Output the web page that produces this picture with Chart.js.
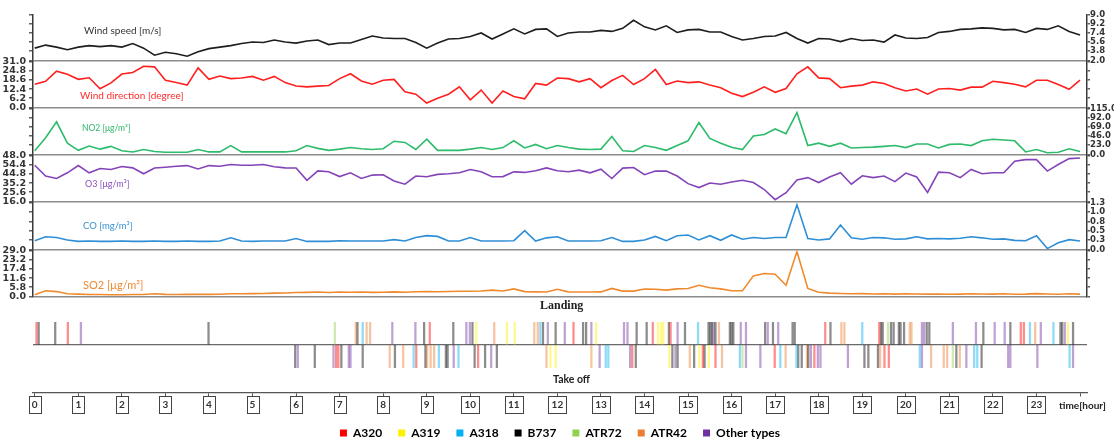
<!DOCTYPE html>
<html>
<head>
<meta charset="utf-8">
<script src="https://cdn.jsdelivr.net/npm/chart.js@4.4.0/dist/chart.umd.min.js"></script>
<style>
  html, body { margin: 0; padding: 0; background: #fff; }
  #stage { position: relative; width: 1114px; height: 440px; overflow: hidden; font-family: Lato, "Liberation Sans", sans-serif; }
  #stage canvas { position: absolute; left: 0; }
  .lbl { position: absolute; white-space: nowrap; line-height: 1; transform: translateY(-50%); }
</style>
</head>
<body>
<div id="stage"></div>
<script>
// readings every 15 minutes, hour 0 .. 24
const STEP_H = 0.25;

const windSpeed = [4.4,5.0,4.6,4.1,4.6,4.9,4.7,4.9,4.6,5.3,4.4,3.0,3.6,3.3,2.8,3.7,4.3,4.6,4.9,5.3,5.6,5.5,6.0,5.6,5.4,
  5.8,6.0,5.1,5.4,5.4,6.1,6.8,6.4,6.3,6.3,5.5,4.4,5.4,6.2,6.3,6.7,7.4,6.2,7.2,8.2,7.2,8.1,8.2,6.7,
  7.4,7.6,7.6,7.9,7.7,8.3,9.9,8.6,8.0,8.8,7.5,8.0,8.1,7.6,7.6,6.7,6.0,6.3,6.7,6.8,7.5,6.3,5.4,6.3,
  6.2,5.7,6.3,5.9,6.0,5.6,7.0,6.4,6.3,6.5,7.5,7.7,8.1,8.2,8.4,8.3,8.0,8.1,7.5,8.3,8.1,8.8,7.7,7.0];

const windDir = [15.7,17.7,24.6,22.4,19.0,20.1,12.6,16.6,22.6,23.7,27.9,27.5,18.4,16.8,15.1,26.8,19.0,21.3,19.5,19.9,21.0,18.4,21.0,16.8,14.5,
  13.9,14.4,14.8,19.5,22.8,17.9,15.7,18.4,19.0,10.6,8.9,2.9,6.2,8.9,13.9,5.1,11.7,2.9,11.1,7.3,5.8,16.2,15.1,19.9,
  19.5,17.3,19.5,13.3,18.2,21.7,15.5,19.5,25.7,15.5,17.9,16.8,17.3,15.1,13.3,9.5,7.3,10.2,13.9,10.2,12.8,22.8,27.5,20.0,
  19.5,13.3,14.4,15.1,17.3,16.2,13.3,11.1,12.4,8.9,12.4,12.8,11.7,13.7,13.7,17.7,16.8,15.7,13.9,18.4,18.4,15.5,12.2,18.4];

const no2 = [9,42,82,28,10,21,13,20,9,6,12,7,5,5,5,12,6,6,22,6,6,6,6,6,9,
  22,15,10,13,17,14,12,14,33,30,12,38,10,10,10,13,17,12,17,34,16,25,14,22,
  17,13,12,13,45,9,7,22,17,10,22,34,80,40,28,18,12,46,50,64,52,105,22,28,
  20,28,16,17,18,20,22,17,26,26,16,25,26,22,34,38,36,34,6,12,4,5,14,7];

const o3 = [54.0,42.6,40,46,53.6,46.0,50.5,49.5,52.6,51.2,45,51,51.9,52.9,53.6,50,53.6,52.9,54.7,54.0,54.0,54.7,52.3,51.2,51,
  38,48,47.1,42,46,40,43.6,44,37.4,34,42.6,41.9,44.3,45,46,49.5,47.1,41.9,42,47,46.4,48.1,51.2,48.1,
  47.1,48.8,46.0,49.8,40,50.9,51.6,44,47.8,47.8,42.6,34.6,30.5,35.3,34.0,36.4,38.1,35.7,28.4,17.7,25.0,38.4,40.9,35.7,
  41.6,46.0,34.0,42.9,40.9,42.6,36.7,45.7,41.6,25.3,46.7,46.0,40.9,49.5,45.0,46.0,46.0,58.1,59.9,59.9,47.8,54.7,60.9,61.6];

const co = [0.24,0.35,0.33,0.26,0.22,0.23,0.22,0.22,0.23,0.22,0.22,0.23,0.22,0.22,0.23,0.22,0.22,0.23,0.32,0.23,0.22,0.23,0.23,0.23,0.30,
  0.22,0.22,0.22,0.24,0.23,0.23,0.23,0.23,0.27,0.23,0.33,0.38,0.36,0.23,0.23,0.33,0.23,0.23,0.23,0.24,0.52,0.23,0.32,0.35,
  0.23,0.23,0.23,0.24,0.33,0.22,0.22,0.26,0.36,0.24,0.38,0.40,0.26,0.38,0.25,0.40,0.28,0.33,0.30,0.33,0.33,1.24,0.30,0.26,
  0.29,0.68,0.32,0.28,0.33,0.32,0.28,0.29,0.35,0.29,0.30,0.29,0.31,0.35,0.32,0.28,0.29,0.25,0.24,0.38,0.02,0.18,0.27,0.23];

const so2 = [1.0,3.5,3.0,1.6,1.4,1.1,1.1,1.0,1.0,1.1,1.1,1.6,1.2,1.1,1.2,1.3,1.2,1.3,1.6,1.6,1.7,1.8,2.0,2.1,2.4,
  2.5,2.7,2.4,2.7,2.6,2.7,2.5,2.6,2.8,2.6,2.9,3.0,2.9,3.1,3.2,3.2,3.4,3.9,3.4,4.7,3.0,2.8,2.7,4.5,
  2.8,2.7,2.7,2.8,5.0,3.3,3.3,4.6,4.5,3.9,4.7,5.0,7.0,5.4,4.7,3.5,3.5,13.0,14.5,14.0,7.0,28.5,5.0,2.6,
  2.0,1.8,1.6,1.7,1.5,1.6,1.4,1.6,1.5,1.4,1.5,1.3,1.4,1.6,1.5,1.4,1.6,1.3,1.4,1.7,1.5,1.3,1.6,1.4];

// tick labels as printed on the figure (bottom to top)
const windSpeedTicks = ['2.0', '3.8', '5.6', '7.4', '9.2', '9.0'];
const windDirTicks = ['0.0', '6.2', '12.4', '18.6', '24.8', '31.0'];
const no2Ticks = ['0.0', '23.0', '46.0', '69.0', '92.0', '115.0'];
const o3Ticks = ['16.0', '25.6', '35.2', '44.8', '54.4', '48.0'];
const coTicks = ['0.0', '0.3', '0.5', '0.8', '1.0', '1.3'];
const so2Ticks = ['0.0', '5.8', '11.6', '17.4', '23.2', '29.0'];
const hourTicks = ['0','1','2','3','4','5','6','7','8','9','10','11','12','13','14','15','16','17','18','19','20','21','22','23'];

// landings / take-offs (hour of day) per aircraft type
const landA320 = [0.04, 0.76, 9.07, 12.37, 14.19, 14.60, 18.15, 19.39, 22.64, 22.71];
const landA319 = [10.14, 10.84, 11.02, 12.89, 14.31, 14.38, 14.43, 23.72];
const landA318 = [7.53, 11.61, 15.23, 19.00, 22.85, 23.39];
const landB737 = [0.09, 0.47, 3.99, 7.41, 8.94, 9.61, 10.05, 11.67, 11.96, 12.59, 12.66, 13.82, 14.05, 14.56, 14.93, 15.47, 15.51, 15.55, 15.63, 15.96, 16.00, 16.04, 16.77, 16.95, 17.40, 17.45, 18.27, 19.43, 19.47, 19.66, 19.72, 19.84, 19.88, 19.96, 20.48, 20.54, 21.78, 22.40, 23.55, 23.59, 23.84];
const landATR72 = [6.89, 19.59];
const landATR42 = [7.37, 7.62, 7.70, 10.55, 11.47, 11.55, 15.71, 18.52, 18.59, 20.09, 20.13, 22.97];
const landOther = [1.06, 8.21, 8.74, 9.91, 9.99, 11.78, 12.17, 12.78, 13.53, 13.61, 14.76, 15.59, 16.21, 16.33, 16.83, 17.07, 20.37, 20.42, 21.08, 21.61, 22.04, 22.27, 23.10, 23.65];

const takeA320 = [6.92, 6.97, 8.76, 10.18, 13.72, 15.34, 15.63, 16.99, 17.90, 19.51, 19.61];
const takeA319 = [11.84, 11.96, 14.57, 15.26, 15.48];
const takeA318 = [8.70, 9.28, 9.73, 13.11, 13.17, 16.19, 17.12, 17.49, 20.32, 21.57, 21.64, 23.76];
const takeB737 = [5.98, 6.43, 7.04, 7.53, 8.27, 8.97, 9.44, 9.48, 10.10, 10.34, 10.61, 13.80, 14.64, 14.76, 15.14, 15.38, 17.53, 17.61, 17.76, 19.05, 19.14, 19.36, 21.16, 21.74];
const takeATR72 = [16.25, 21.08];
const takeATR42 = [8.15, 8.46, 9.01, 9.09, 9.17, 11.75, 12.78, 15.04, 15.78, 17.24, 17.73, 19.41, 20.58, 20.87, 20.95, 21.24];
const takeOther = [6.04, 6.86, 7.21, 7.25, 9.62, 10.48, 12.97, 13.67, 14.71, 16.33, 16.66, 17.82, 17.98, 18.04, 18.67, 20.37, 21.39, 22.35, 22.40, 23.02, 23.84];

const aircraft = [
  { name: 'A320', color: '255,0,0', land: landA320, take: takeA320 },
  { name: 'A319', color: '255,240,0', land: landA319, take: takeA319 },
  { name: 'A318', color: '0,176,240', land: landA318, take: takeA318 },
  { name: 'B737', color: '0,0,0', land: landB737, take: takeB737 },
  { name: 'ATR72', color: '146,208,80', land: landATR72, take: takeATR72 },
  { name: 'ATR42', color: '237,125,49', land: landATR42, take: takeATR42 },
  { name: 'Other types', color: '112,48,160', land: landOther, take: takeOther }
];

// ---- layout ----
const W = 1114;
const LEFT_W = 33, RIGHT_W = 27;
const X_MIN = -0.04, X_MAX = 24.16;
const stage = document.getElementById('stage');

Chart.defaults.font.family = 'Lato';

function makeCanvas(top, height) {
  const c = document.createElement('canvas');
  c.width = W; c.height = height;
  c.style.top = top + 'px';
  c.style.width = W + 'px';
  c.style.height = height + 'px';
  stage.appendChild(c);
  return c;
}

const panels = [
  { data: windSpeed, ticks: windSpeedTicks, min: 2, max: 11, color: '#1e1e1e', side: 'right', top: 14, bottom: 61 },
  { data: windDir, ticks: windDirTicks, min: 0, max: 31, color: '#ff1f1f', side: 'left', top: 61, bottom: 108 },
  { data: no2, ticks: no2Ticks, min: 0, max: 115, color: '#2dbb6c', side: 'right', top: 108, bottom: 155 },
  { data: o3, ticks: o3Ticks, min: 16, max: 64, color: '#8444b8', side: 'left', top: 155, bottom: 202 },
  { data: co, ticks: coTicks, min: 0, max: 1.3, color: '#2f8fd6', side: 'right', top: 202, bottom: 250 },
  { data: so2, ticks: so2Ticks, min: 0, max: 29, color: '#f08a2e', side: 'left', top: 250, bottom: 297 }
];

function yAxis(p, pos) {
  const left = pos === 'left';
  return {
    type: 'linear', position: pos, min: p.min, max: p.max,
    afterFit: s => { s.width = left ? LEFT_W : RIGHT_W; },
    border: { display: true, color: '#3a3a3a', width: 1.5 },
    grid: {
      drawOnChartArea: left,
      color: c => c.index === 0 ? '#8c8c8c' : 'rgba(0,0,0,0)',
      lineWidth: 1.6,
      tickColor: '#3a3a3a', tickLength: left ? 4 : 3, tickWidth: 1.2
    },
    ticks: {
      stepSize: (p.max - p.min) / 5, autoSkip: false,
      padding: left ? 3 : 0,
      color: '#333',
      font: { family: 'DejaVu Sans', size: left ? 9.5 : 8.5, weight: 'bold' },
      callback: (v, i) => pos === p.side ? p.ticks[i] : ''
    }
  };
}

panels.forEach(p => {
  const pad = 8;
  const canvas = makeCanvas(p.top - pad, p.bottom - p.top + 2 * pad);
  new Chart(canvas, {
    type: 'line',
    data: {
      datasets: [{
        data: p.data.map((v, i) => ({ x: i * STEP_H, y: v })),
        borderColor: p.color, borderWidth: 1.6,
        pointRadius: 0, tension: 0,
        yAxisID: p.side === 'left' ? 'yL' : 'yR'
      }]
    },
    options: {
      responsive: false, animation: false, devicePixelRatio: 1,
      layout: { padding: { top: pad, bottom: pad, left: 0, right: 0 } },
      plugins: { legend: { display: false }, tooltip: { enabled: false } },
      scales: {
        x: { type: 'linear', min: X_MIN, max: X_MAX, display: false },
        yL: yAxis(p, 'left'),
        yR: yAxis(p, 'right')
      }
    }
  });
});

// ---- landing / take-off strip with hour axis and legend ----
const hourBoxes = {
  id: 'hourBoxes',
  afterDraw(chart) {
    const sc = chart.scales.x, ctx = chart.ctx;
    ctx.save();
    ctx.font = 'bold 10px Lato';
    ctx.strokeStyle = '#444';
    ctx.lineWidth = 1;
    sc.ticks.forEach(t => {
      const label = hourTicks[t.value];
      if (label === undefined) return;
      const x = sc.getPixelForValue(t.value);
      const w = Math.round(ctx.measureText(label).width + 6);
      ctx.strokeRect(Math.round(x - w / 2) + 0.5, Math.round(sc.top) + 3.5, w, 17);
    });
    ctx.restore();
  }
};

const evTop = 296;
const evCanvas = makeCanvas(evTop, 153);
new Chart(evCanvas, {
  type: 'bar',
  data: {
    datasets: aircraft.map(a => ({
      label: a.name,
      data: a.land.map(t => ({ x: t, y: [0, 1] })).concat(a.take.map(t => ({ x: t, y: [-1, 0] }))),
      backgroundColor: 'rgba(' + a.color + ',0.45)',
      borderWidth: 0,
      barThickness: 1.6,
      grouped: false
    }))
  },
  options: {
    responsive: false, animation: false, devicePixelRatio: 1,
    layout: { padding: { top: 26, bottom: 0, left: LEFT_W, right: RIGHT_W } },
    plugins: {
      tooltip: { enabled: false },
      legend: {
        position: 'bottom',
        labels: {
          boxWidth: 7, boxHeight: 7, padding: 16, color: '#222',
          font: { family: 'Lato', size: 12, weight: 'bold' },
          generateLabels: () => aircraft.map((a, i) => ({
            text: a.name, fillStyle: 'rgb(' + a.color + ')', strokeStyle: 'rgb(' + a.color + ')',
            lineWidth: 0, hidden: false, datasetIndex: i
          }))
        }
      }
    },
    scales: {
      x: {
        type: 'linear', min: X_MIN, max: X_MAX, offset: false,
        afterFit: s => { s.height = 18.5; },
        border: { display: true, color: '#555', width: 1.3 },
        grid: { display: true, offset: false, drawOnChartArea: false, tickLength: 4, tickColor: '#555' },
        ticks: {
          stepSize: 1, includeBounds: false, autoSkip: false, maxRotation: 0, padding: 2,
          color: '#333', font: { family: 'Lato', size: 10, weight: 'bold' },
          callback: v => hourTicks[v] !== undefined ? hourTicks[v] : ''
        }
      },
      y: {
        min: -2.087, max: 1,
        afterFit: s => { s.width = 0; },
        border: { display: false },
        grid: { drawTicks: false, color: c => c.tick && c.tick.value === 0 ? '#6a6a6a' : 'rgba(0,0,0,0)', lineWidth: 1.2 },
        ticks: { display: false, stepSize: 1 }
      }
    }
  },
  plugins: [hourBoxes]
});

// ---- text annotations ----
const notes = [
  { text: 'Wind speed [m/s]', x: 84, y: 30, size: 10, color: '#333' },
  { text: 'Wind direction [degree]', x: 80, y: 95, size: 10, color: '#ff2a2a' },
  { text: 'NO2 [μg/m³]', x: 82, y: 128, size: 8.5, color: '#2db86a' },
  { text: 'O3 [μg/m³]', x: 85, y: 183, size: 9, color: '#8a4fbf' },
  { text: 'CO [mg/m³]', x: 83, y: 226, size: 9.5, color: '#3a92d4' },
  { text: 'SO2 [μg/m³]', x: 83, y: 284, size: 11, color: '#f08a30' },
  { text: 'Landing', x: 540, y: 305, size: 12, color: '#222', weight: 'bold', family: '"Liberation Serif", serif' },
  { text: 'Take off', x: 553, y: 379, size: 10.5, color: '#222', weight: 'bold' },
  { text: 'time[hour]', x: 1059, y: 405, size: 10, color: '#222', weight: 'bold' }
];
notes.forEach(n => {
  const d = document.createElement('div');
  d.className = 'lbl';
  d.textContent = n.text;
  d.style.left = n.x + 'px';
  d.style.top = n.y + 'px';
  d.style.fontSize = n.size + 'px';
  d.style.color = n.color;
  if (n.weight) d.style.fontWeight = n.weight;
  if (n.family) d.style.fontFamily = n.family;
  stage.appendChild(d);
});
</script>
</body>
</html>
